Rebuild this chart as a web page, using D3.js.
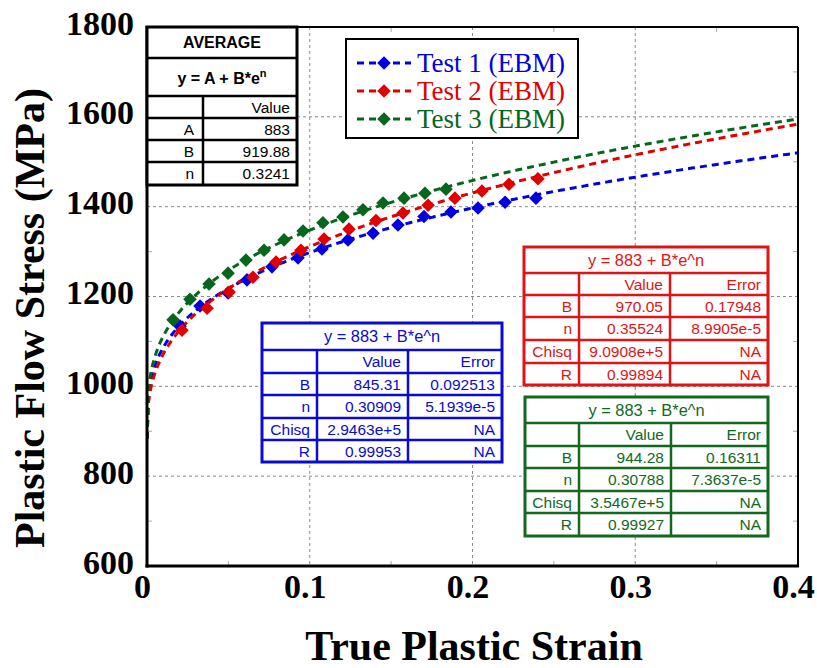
<!DOCTYPE html>
<html>
<head>
<meta charset="utf-8">
<script src="https://cdn.jsdelivr.net/npm/d3@7"></script>
<style>
  html, body { margin: 0; padding: 0; background: #fff; }
  svg { display: block; }
</style>
</head>
<body>
<svg id="chart" width="817" height="668"></svg>
<script>
// ---- measured flow-stress points (true plastic strain, MPa) ----
const test1Strain = [0.0203, 0.0326, 0.0498, 0.0614, 0.0768, 0.0928, 0.1075, 0.1235, 0.1389, 0.1542, 0.1702, 0.1868, 0.2034, 0.2200, 0.2390];
const test1Stress = [1134, 1179, 1208, 1237, 1266, 1286, 1306, 1326, 1341, 1359, 1378, 1388, 1397, 1410, 1419];

const test2Strain = [0.0215, 0.0369, 0.0504, 0.0651, 0.0793, 0.0946, 0.1088, 0.1241, 0.1407, 0.1573, 0.1727, 0.1892, 0.2058, 0.2224, 0.2402];
const test2Stress = [1125, 1174, 1210, 1243, 1277, 1303, 1328, 1350, 1369, 1386, 1403, 1419, 1435, 1450, 1462];

const test3Strain = [0.0160, 0.0264, 0.0381, 0.0498, 0.0608, 0.0719, 0.0842, 0.0959, 0.1081, 0.1204, 0.1327, 0.1450, 0.1579, 0.1708, 0.1837];
const test3Stress = [1148, 1194, 1228, 1252, 1281, 1303, 1326, 1346, 1364, 1377, 1393, 1408, 1419, 1430, 1439];

// ---- fitted Ludwik parameters: y = A + B*e^n ----
const fitA = 883;
const fitB = [845.31, 970.05, 944.28];
const fitN = [0.30909, 0.35524, 0.30788];
const fitError = [["0.092513", "5.1939e-5"], ["0.17948", "8.9905e-5"], ["0.16311", "7.3637e-5"]];
const fitChisq = ["2.9463e+5", "9.0908e+5", "3.5467e+5"];
const fitR = ["0.99953", "0.99894", "0.99927"];

const avgLabels = ["A", "B", "n"];
const avgValues = [883, 919.88, 0.3241];

const seriesNames = ["Test 1 (EBM)", "Test 2 (EBM)", "Test 3 (EBM)"];
const seriesColors = ["#0000e0", "#e00000", "#06661c"];

const xTicks = [0, 0.1, 0.2, 0.3, 0.4];
const xTickLabels = ["0", "0.1", "0.2", "0.3", "0.4"];
const yTicks = [600, 800, 1000, 1200, 1400, 1600, 1800];
const xMinor = [0.05, 0.15, 0.25, 0.35];
const yMinor = [700, 900, 1100, 1300, 1500, 1700];

const series = [
  { strain: test1Strain, stress: test1Stress },
  { strain: test2Strain, stress: test2Stress },
  { strain: test3Strain, stress: test3Stress }
];

// ---- layout ----
const svg = d3.select("#chart");
const L = 147, R = 798, T = 27, B = 566;
const x = d3.scaleLinear().domain([0, 0.4]).range([L, R]);
const y = d3.scaleLinear().domain([600, 1800]).range([B, T]);

svg.append("defs").append("clipPath").attr("id", "plotClip")
  .append("rect").attr("x", L).attr("y", T).attr("width", R - L).attr("height", B - T);

// grid
const grid = svg.append("g");
grid.selectAll("line.gx").data(xTicks.slice(1, -1)).join("line")
  .attr("x1", d => x(d)).attr("x2", d => x(d)).attr("y1", T).attr("y2", B)
  .attr("stroke", "#8a8a8a").attr("stroke-width", 1).attr("stroke-dasharray", "3,3");
grid.selectAll("line.gy").data(yTicks.slice(1, -1)).join("line")
  .attr("y1", d => y(d)).attr("y2", d => y(d)).attr("x1", L).attr("x2", R)
  .attr("stroke", "#8a8a8a").attr("stroke-width", 1).attr("stroke-dasharray", "3,3");

// minor inner ticks on all sides
const mt = svg.append("g").attr("stroke", "#aaa").attr("stroke-width", 1);
xMinor.forEach(v => {
  mt.append("line").attr("x1", x(v)).attr("x2", x(v)).attr("y1", B).attr("y2", B - 5);
  mt.append("line").attr("x1", x(v)).attr("x2", x(v)).attr("y1", T).attr("y2", T + 5);
});
yMinor.forEach(v => {
  mt.append("line").attr("y1", y(v)).attr("y2", y(v)).attr("x1", L).attr("x2", L + 5);
  mt.append("line").attr("y1", y(v)).attr("y2", y(v)).attr("x1", R).attr("x2", R - 5);
});

// fitted curves and measured points
const plot = svg.append("g").attr("clip-path", "url(#plotClip)");
const eGrid = d3.range(0, 400.5, 1).map(i => i / 1000);
const line = d3.line().x(d => x(d[0])).y(d => y(d[1]));

series.forEach((s, i) => {
  const curve = eGrid.map(e => [e, fitA + fitB[i] * Math.pow(e, fitN[i])]);
  plot.append("path").datum(curve).attr("d", line)
    .attr("fill", "none").attr("stroke", seriesColors[i])
    .attr("stroke-width", 3).attr("stroke-dasharray", "7,5");
});

const diamond = d3.symbol().type(d3.symbolSquare).size(92);
series.forEach((s, i) => {
  plot.append("g").selectAll("path").data(s.strain.map((e, k) => [e, s.stress[k]])).join("path")
    .attr("d", diamond)
    .attr("transform", d => `translate(${x(d[0])},${y(d[1])}) rotate(45)`)
    .attr("fill", seriesColors[i]);
});

// axes labels
const yAxis = d3.axisLeft(y).tickValues(yTicks).tickSize(0).tickPadding(13).tickFormat(d3.format("d"));
const gy = svg.append("g").attr("transform", `translate(${L},0)`).call(yAxis);
gy.select(".domain").remove();
gy.selectAll("text").attr("font-family", "'Liberation Serif', 'Times New Roman', serif")
  .attr("font-weight", "bold").attr("font-size", 34).attr("fill", "#000").attr("dy", "0.21em");

const xAxis = d3.axisBottom(x).tickValues(xTicks).tickSize(0).tickPadding(8)
  .tickFormat((d, i) => xTickLabels[i]);
const gx = svg.append("g").attr("transform", `translate(0,${B})`).call(xAxis);
gx.select(".domain").remove();
gx.selectAll("text").attr("font-family", "'Liberation Serif', 'Times New Roman', serif")
  .attr("font-weight", "bold").attr("font-size", 34).attr("fill", "#000").attr("dx", "-0.15em");

svg.append("text").attr("x", 474).attr("y", 660).attr("text-anchor", "middle")
  .attr("font-family", "'Liberation Serif', 'Times New Roman', serif").attr("font-weight", "bold")
  .attr("font-size", 42).text("True Plastic Strain");

svg.append("text").attr("transform", "translate(44,318) rotate(-90)").attr("text-anchor", "middle")
  .attr("font-family", "'Liberation Serif', 'Times New Roman', serif").attr("font-weight", "bold")
  .attr("font-size", 42).text("Plastic Flow Stress (MPa)");

// frame
svg.append("line").attr("x1", R).attr("x2", R).attr("y1", T).attr("y2", B).attr("stroke", "#000").attr("stroke-width", 2);
svg.append("line").attr("x1", L).attr("x2", R).attr("y1", T).attr("y2", T).attr("stroke", "#000").attr("stroke-width", 2);
svg.append("line").attr("x1", L).attr("x2", L).attr("y1", T - 1).attr("y2", B + 1.5).attr("stroke", "#000").attr("stroke-width", 3);
svg.append("line").attr("x1", L - 1.5).attr("x2", R + 1).attr("y1", B).attr("y2", B).attr("stroke", "#000").attr("stroke-width", 3);

// ---- tables ----
const tableFont = "'Liberation Sans', Arial, Helvetica, sans-serif";

function gridTable(cols, rows, color, mergedRows) {
  const g = svg.append("g");
  g.append("rect").attr("x", cols[0]).attr("y", rows[0])
    .attr("width", cols[cols.length - 1] - cols[0]).attr("height", rows[rows.length - 1] - rows[0])
    .attr("fill", "#fff").attr("stroke", color).attr("stroke-width", 3);
  rows.slice(1, -1).forEach(r => {
    g.append("line").attr("x1", cols[0]).attr("x2", cols[cols.length - 1]).attr("y1", r).attr("y2", r)
      .attr("stroke", color).attr("stroke-width", 2.5);
  });
  cols.slice(1, -1).forEach(c => {
    g.append("line").attr("x1", c).attr("x2", c).attr("y1", rows[mergedRows]).attr("y2", rows[rows.length - 1])
      .attr("stroke", color).attr("stroke-width", 2.5);
  });
  return g;
}

function cellText(g, txt, xp, rowTop, rowBot, anchor, color, size, weight) {
  return g.append("text").attr("x", xp).attr("y", (rowTop + rowBot) / 2 + size * 0.36)
    .attr("text-anchor", anchor).attr("font-family", tableFont).attr("font-size", size)
    .attr("font-weight", weight || "normal").attr("fill", color).text(txt);
}

// average-parameter table
{
  const cols = [147, 203, 297], rows = [27, 58, 96, 118, 140, 162, 185];
  const g = gridTable(cols, rows, "#000", 2);
  cellText(g, "AVERAGE", (cols[0] + cols[2]) / 2, rows[0], rows[1], "middle", "#000", 16, "bold");
  const eq = g.append("text").attr("x", (cols[0] + cols[2]) / 2).attr("y", (rows[1] + rows[2]) / 2 + 7)
    .attr("text-anchor", "middle").attr("font-family", tableFont).attr("font-size", 16)
    .attr("font-weight", "bold").attr("fill", "#000");
  eq.append("tspan").text("y = A + B*e");
  eq.append("tspan").attr("dy", -7).attr("font-size", 11).text("n");
  cellText(g, "Value", cols[2] - 7, rows[2], rows[3], "end", "#000", 15.5);
  avgLabels.forEach((lab, k) => {
    cellText(g, lab, cols[1] - 9, rows[3 + k], rows[4 + k], "end", "#000", 15.5);
    cellText(g, String(avgValues[k]), cols[2] - 7, rows[3 + k], rows[4 + k], "end", "#000", 15.5);
  });
}

// per-test fit tables
const fitTableCols = [[262, 317, 408, 502], [524, 579, 670, 768], [525, 579, 671, 768]];
const fitTableRows = [
  [323, 350, 373, 395, 418, 440, 462],
  [247, 273, 295, 317, 340, 363, 385],
  [397, 423, 446, 468, 491, 513, 536]
];
const tableColors = ["#0a0ad2", "#e01414", "#12681e"];
const fitRowLabels = ["B", "n", "Chisq", "R"];

[0, 1, 2].forEach(i => {
  const cols = fitTableCols[i], rows = fitTableRows[i], c = tableColors[i];
  const g = gridTable(cols, rows, c, 1);
  cellText(g, "y = " + fitA + " + B*e^n", (cols[0] + cols[3]) / 2, rows[0], rows[1], "middle", c, 16.4);
  cellText(g, "Value", cols[2] - 7, rows[1], rows[2], "end", c, 15.5);
  cellText(g, "Error", cols[3] - 7, rows[1], rows[2], "end", c, 15.5);
  const vals = [
    [String(fitB[i]), fitError[i][0]],
    [String(fitN[i]), fitError[i][1]],
    [fitChisq[i], "NA"],
    [fitR[i], "NA"]
  ];
  fitRowLabels.forEach((lab, k) => {
    cellText(g, lab, cols[1] - 7, rows[2 + k], rows[3 + k], "end", c, 15.5);
    cellText(g, vals[k][0], cols[2] - 7, rows[2 + k], rows[3 + k], "end", c, 15.5);
    cellText(g, vals[k][1], cols[3] - 7, rows[2 + k], rows[3 + k], "end", c, 15.5);
  });
});

// ---- legend ----
{
  const g = svg.append("g");
  g.append("rect").attr("x", 346).attr("y", 39).attr("width", 232).attr("height", 99)
    .attr("fill", "#fff").attr("stroke", "#000").attr("stroke-width", 2);
  const rowY = [63, 91, 119];
  seriesNames.forEach((name, i) => {
    g.append("line").attr("x1", 357).attr("x2", 411).attr("y1", rowY[i]).attr("y2", rowY[i])
      .attr("stroke", seriesColors[i]).attr("stroke-width", 3).attr("stroke-dasharray", "7,5");
    g.append("path").attr("d", diamond).attr("transform", `translate(384,${rowY[i]}) rotate(45)`)
      .attr("fill", seriesColors[i]);
    g.append("text").attr("x", 417).attr("y", rowY[i] + 9)
      .attr("font-family", "'Liberation Serif', 'Times New Roman', serif").attr("font-size", 27)
      .attr("fill", seriesColors[i]).text(name);
  });
}
</script>
</body>
</html>
